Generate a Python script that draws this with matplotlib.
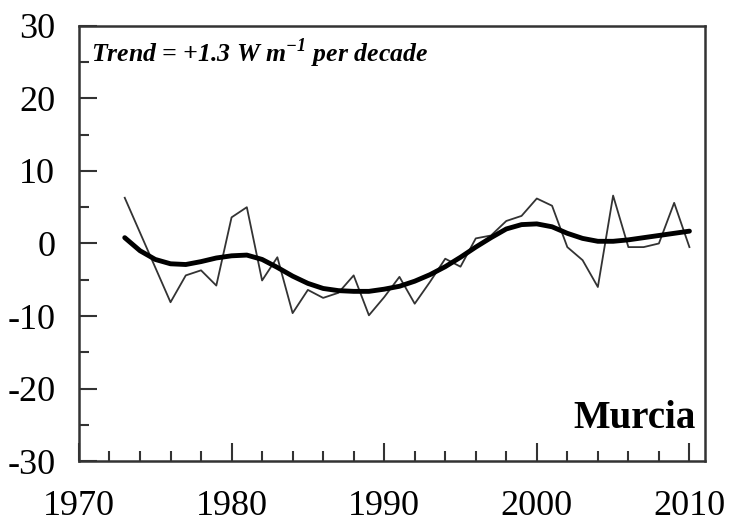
import matplotlib.pyplot as plt
from matplotlib.ticker import MultipleLocator

years = list(range(1973, 2011))
anomaly = [6.3, 1.5, -3.3, -8.1, -4.4, -3.7, -5.8, 3.6, 5.0, -5.1,
           -1.9, -9.6, -6.4, -7.5, -6.8, -4.4, -9.9, -7.4, -4.6, -8.3,
           -5.3, -2.1, -3.2, 0.7, 1.1, 3.1, 3.8, 6.2, 5.2, -0.5,
           -2.3, -6.0, 6.6, -0.5, -0.5, 0.0, 5.6, -0.5]
smooth = [0.8, -1.0, -2.2, -2.8, -2.9, -2.5, -2.0, -1.7, -1.6, -2.2,
          -3.3, -4.5, -5.5, -6.2, -6.5, -6.6, -6.6, -6.3, -5.9, -5.2,
          -4.3, -3.2, -1.9, -0.5, 0.8, 2.0, 2.6, 2.7, 2.3, 1.4,
          0.7, 0.3, 0.3, 0.5, 0.8, 1.1, 1.4, 1.7]

plt.rcParams['font.family'] = 'Liberation Serif'
plt.rcParams['axes.unicode_minus'] = False

fig = plt.figure(figsize=(7.31, 5.27), dpi=100)
ax = fig.add_axes([0.108, 0.125, 0.856, 0.826])

ax.plot(years, anomaly, color='#333333', lw=1.3)
ax.plot(years, smooth, color='black', lw=3.5, solid_capstyle='round')

ax.set_xlim(1970, 2011)
ax.set_ylim(-30, 30)
ax.xaxis.set_major_locator(MultipleLocator(10))
ax.xaxis.set_minor_locator(MultipleLocator(2))
ax.yaxis.set_major_locator(MultipleLocator(10))
ax.yaxis.set_minor_locator(MultipleLocator(5))
ax.tick_params(which='both', direction='in', top=False, right=False,
               labelsize=26, width=1.5, color='#333333')
ax.tick_params(axis='x', which='major', length=13, pad=21)
ax.tick_params(axis='y', which='major', length=13, pad=17)
ax.tick_params(which='minor', length=7)
for s in ax.spines.values():
    s.set_linewidth(1.8)
    s.set_color('#333333')

ax.text(0.02, 0.975, r'Trend = +1.3 W m$^{\mathregular{-1}}$ per decade',
        transform=ax.transAxes, ha='left', va='top', fontsize=18.5,
        fontweight='bold', fontstyle='italic')
ax.text(0.985, 0.075, 'Murcia', transform=ax.transAxes, ha='right',
        va='baseline', fontsize=28, fontweight='bold')

fig.savefig('out.png', dpi=100)
